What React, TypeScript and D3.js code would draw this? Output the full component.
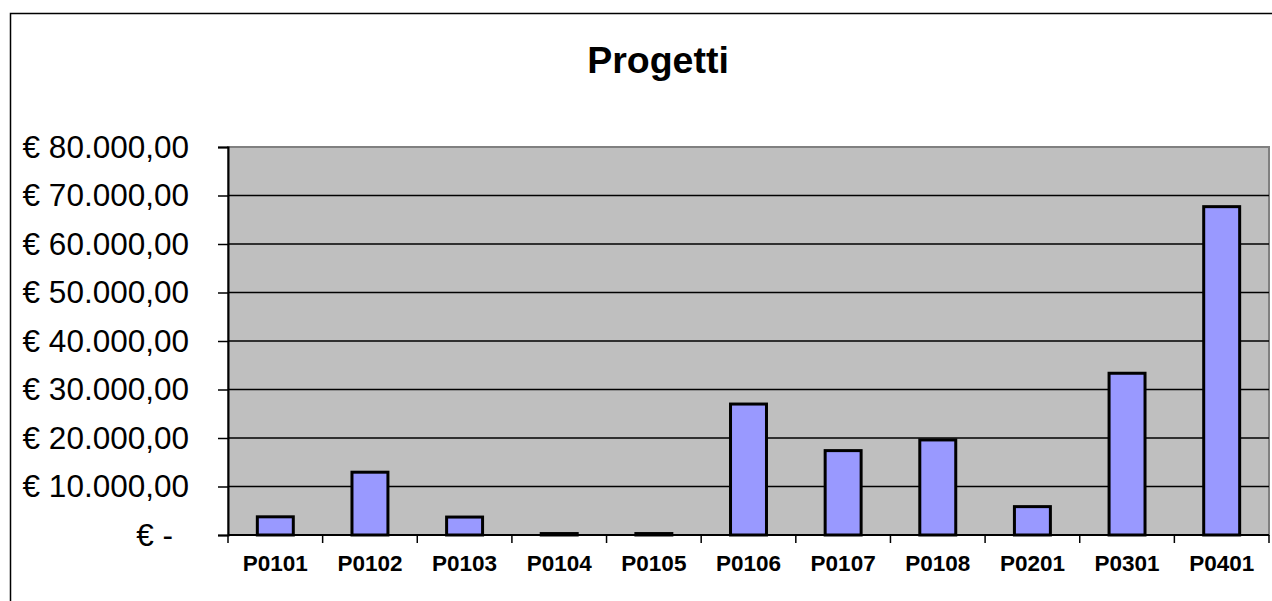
import React, { useRef, useEffect } from "react";
import * as d3 from "d3";

// Progetti - importi per progetto
const categories = ["P0101", "P0102", "P0103", "P0104", "P0105", "P0106", "P0107", "P0108", "P0201", "P0301", "P0401"];
const amounts = [3750, 12950, 3700, 300, 300, 27000, 17400, 19600, 5850, 33350, 67700];
const yTicks = [0, 10000, 20000, 30000, 40000, 50000, 60000, 70000, 80000];
const title = "Progetti";

const W = 1272,
  H = 601,
  margin = { top: 147, right: 3, bottom: 66, left: 228 },
  font = "'Liberation Sans', Arial, sans-serif";

const itFormat = d3.formatLocale({ decimal: ",", thousands: ".", grouping: [3], currency: ["€ ", ""] });
const fmt = (v: number) => (v === 0 ? "€ -" : itFormat.format("$,.2f")(v));

export default function App() {
  const svgRef = useRef<SVGSVGElement>(null);

  useEffect(() => {
    const svg = d3.select(svgRef.current);
    svg.selectAll("*").remove();

    const x0 = margin.left,
      x1 = W - margin.right,
      y0 = H - margin.bottom,
      y1 = margin.top;

    const x = d3.scaleBand<string>().domain(categories).range([x0, x1]).padding(0);
    const y = d3.scaleLinear().domain([0, 80000]).range([y0, y1]);

    // outer chart border
    svg.append("rect")
      .attr("x", 10.5).attr("y", 13.5)
      .attr("width", W + 50).attr("height", H + 50)
      .attr("fill", "#fff").attr("stroke", "#000").attr("stroke-width", 1.5);

    // plot area
    svg.append("rect")
      .attr("x", x0).attr("y", y1)
      .attr("width", x1 - x0).attr("height", y0 - y1)
      .attr("fill", "#bfbfbf").attr("stroke", "#808080").attr("stroke-width", 2);

    // gridlines
    svg.append("g")
      .selectAll("line")
      .data(yTicks.filter((d) => d > 0 && d < 80000))
      .join("line")
      .attr("x1", x0).attr("x2", x1)
      .attr("y1", (d) => y(d)).attr("y2", (d) => y(d))
      .attr("stroke", "#000").attr("stroke-width", 1.5);

    // bars
    const bw = x.bandwidth() * 0.38;
    svg.append("g")
      .selectAll("rect")
      .data(categories)
      .join("rect")
      .attr("x", (d) => x(d)! + x.bandwidth() / 2 - bw / 2)
      .attr("width", bw)
      .attr("y", (d, i) => y(amounts[i]))
      .attr("height", (d, i) => y0 - y(amounts[i]))
      .attr("fill", "#9999ff")
      .attr("stroke", "#000")
      .attr("stroke-width", 3);

    // y axis
    const yAxis = svg.append("g")
      .attr("transform", `translate(${x0},0)`)
      .call(d3.axisLeft(y).tickValues(yTicks).tickSize(10).tickPadding(29).tickFormat((d) => fmt(+d)));
    yAxis.select(".domain").attr("stroke", "#000").attr("stroke-width", 2);
    yAxis.selectAll(".tick line").attr("stroke", "#000").attr("stroke-width", 1.5);
    yAxis.selectAll(".tick text")
      .attr("font-family", font).attr("font-size", 31.5).attr("fill", "#000")
      .attr("dx", (d: any) => (+d === 0 ? -16 : 0));

    // x axis
    const tickPos = categories.map((c) => x(c)!).concat([x1]);
    svg.append("line")
      .attr("x1", x0).attr("x2", x1).attr("y1", y0).attr("y2", y0)
      .attr("stroke", "#000").attr("stroke-width", 2);
    svg.append("g")
      .selectAll("line")
      .data(tickPos)
      .join("line")
      .attr("x1", (d) => d).attr("x2", (d) => d)
      .attr("y1", y0).attr("y2", y0 + 8)
      .attr("stroke", "#000").attr("stroke-width", 1.5);
    svg.append("g")
      .selectAll("text")
      .data(categories)
      .join("text")
      .attr("x", (d) => x(d)! + x.bandwidth() / 2)
      .attr("y", 571)
      .attr("text-anchor", "middle")
      .attr("font-family", font)
      .attr("font-weight", "bold")
      .attr("font-size", 22.5)
      .attr("fill", "#000")
      .text((d) => d);

    // title
    svg.append("text")
      .attr("x", 658).attr("y", 73)
      .attr("text-anchor", "middle")
      .attr("font-family", font)
      .attr("font-weight", "bold")
      .attr("font-size", 37.5)
      .attr("fill", "#000")
      .text(title);
  }, []);

  return (
    <svg ref={svgRef} width={W} height={H} style={{ position: "absolute", left: 0, top: 0, background: "#fff" }} />
  );
}
